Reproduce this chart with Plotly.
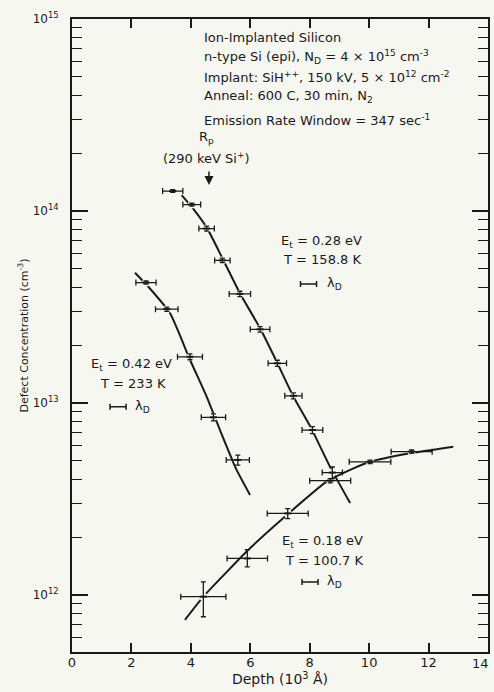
import numpy as np
import plotly.graph_objects as go

# ---------------- data ----------------
# Et = 0.28 eV, T = 158.8 K
s1_x = [3.39, 4.03, 4.53, 5.06, 5.65, 6.33, 6.91, 7.45, 8.09, 8.76]
s1_y = [1.27e14, 1.08e14, 8.1e13, 5.53e13, 3.70e13, 2.42e13, 1.61e13, 1.09e13, 7.23e12, 4.34e12]
s1_xerr = [0.34, 0.30, 0.26, 0.26, 0.36, 0.33, 0.31, 0.29, 0.35, 0.34]
s1_yerr = [0.02e14, 0.02e14, 0.25e13, 0.15e13, 0.12e13, 0.08e13, 0.06e13, 0.04e13, 0.30e12, 0.30e12]
s1_line_x = [3.69, 4.03, 4.55, 5.09, 5.65, 6.33, 6.89, 7.45, 8.07, 8.68, 9.36]
s1_line_y = [1.21e14, 1.05e14, 8.12e13, 5.56e13, 3.73e13, 2.45e13, 1.64e13, 1.08e13, 7.29e12, 4.66e12, 3.01e12]

# Et = 0.42 eV, T = 233 K
s2_x = [2.49, 3.19, 3.97, 4.76, 5.58]
s2_y = [4.24e13, 3.08e13, 1.74e13, 8.42e12, 5.05e12]
s2_xerr = [0.34, 0.38, 0.42, 0.41, 0.39]
s2_yerr = [0.08e13, 0.08e13, 0.06e13, 0.35e12, 0.30e12]
s2_line_x = [2.12, 2.57, 3.30, 3.97, 4.53, 4.98, 5.54, 5.99]
s2_line_y = [4.77e13, 4.03e13, 2.93e13, 1.68e13, 1.08e13, 7.23e12, 4.48e12, 3.32e12]

# Et = 0.18 eV, T = 100.7 K
s3_x = [4.42, 5.90, 7.26, 8.69, 10.03, 11.43]
s3_y = [9.8e11, 1.55e12, 2.66e12, 3.94e12, 4.94e12, 5.58e12]
s3_xerr = [0.76, 0.68, 0.69, 0.69, 0.70, 0.69]
s3_yerr_plus = [0.19e12, 0.17e12, 0.16e12, 0.10e12, 0.10e12, 0.11e12]
s3_yerr_minus = [0.21e12, 0.15e12, 0.16e12, 0.10e12, 0.10e12, 0.11e12]
s3_line_x = [3.80, 4.42, 5.99, 7.23, 8.57, 9.36, 10.03, 11.38, 12.83]
s3_line_y = [7.41e11, 9.8e11, 1.75e12, 2.61e12, 3.89e12, 4.48e12, 4.94e12, 5.47e12, 5.92e12]

# Debye length scale bars (half width in 10^3 A)
lambda_half = 0.27

x_ticks = [0, 2, 4, 6, 8, 10, 12, 14]
x_tick_text = ["0", "2", "4", "6", "8", "10", "12", ""]   # "14" drawn separately so it stays inside the page
last_x_label = "14"
y_major = [1e12, 1e13, 1e14, 1e15]
y_major_text = ["10<sup>12</sup>", "10<sup>13</sup>", "10<sup>14</sup>", "10<sup>15</sup>"]
y_minor = [k * 10.0 ** d for d in (11, 12, 13, 14) for k in range(2, 10)]

INK = "#1a1a1a"
BG = "#f7f7f2"
FONT = "DejaVu Sans"

fig = go.Figure()

def curve(x, y):
    fig.add_trace(go.Scatter(x=x, y=y, mode="lines", line=dict(color=INK, width=2, shape="spline", smoothing=0.5),
                             hoverinfo="skip", showlegend=False))

def mask(x, y):
    fig.add_trace(go.Scatter(x=x, y=y, mode="markers", hoverinfo="skip", showlegend=False,
                             marker=dict(symbol="circle", size=8, color=BG, line=dict(width=0))))

def points(x, y, xerr, yplus, yminus=None):
    ey = dict(type="data", array=yplus, color=INK, thickness=1.3, width=2.5, visible=True)
    if yminus is not None:
        ey["symmetric"] = False
        ey["arrayminus"] = yminus
    fig.add_trace(go.Scatter(
        x=x, y=y, mode="markers",
        marker=dict(symbol="line-ew", size=5, line=dict(color=INK, width=2)),
        error_x=dict(type="data", array=xerr, color=INK, thickness=1.3, width=3),
        error_y=ey, showlegend=False))

curve(s1_line_x, s1_line_y)
curve(s2_line_x, s2_line_y)
curve(s3_line_x, s3_line_y)
mask(s1_x, s1_y)
mask(s2_x, s2_y)
mask(s3_x, s3_y)
points(s1_x, s1_y, s1_xerr, s1_yerr)
points(s2_x, s2_y, s2_xerr, s2_yerr)
points(s3_x, s3_y, s3_xerr, s3_yerr_plus, s3_yerr_minus)

# lambda_D scale bars
bar_x = [7.96, 1.55, 8.01]
bar_y = [10 ** 13.620, 10 ** 12.981, 10 ** 12.068]
fig.add_trace(go.Scatter(x=bar_x, y=bar_y, mode="markers", marker=dict(size=1, color=INK),
                         error_x=dict(type="constant", value=lambda_half, color=INK, thickness=1.5, width=3),
                         showlegend=False))

ann = []
def txt(x, ylog, s, anchor="center", size=13):
    ann.append(dict(x=x, y=ylog, xref="x", yref="y", text=s, showarrow=False, xanchor=anchor,
                    yanchor="middle", font=dict(family=FONT, size=size, color=INK)))

x0 = 4.375
txt(x0, 14.906, "Ion-Implanted Silicon", "left")
txt(x0, 14.802, "n-type Si (epi), N<sub>D</sub> = 4 × 10<sup>15</sup> cm<sup>-3</sup>", "left")
txt(x0, 14.698, "Implant: SiH<sup>++</sup>, 150 kV, 5 × 10<sup>12</sup> cm<sup>-2</sup>", "left")
txt(x0, 14.594, "Anneal: 600 C, 30 min, N<sub>2</sub>", "left")
txt(x0, 14.474, "Emission Rate Window = 347 sec<sup>-1</sup>", "left")
txt(4.54, 14.385, "R<sub>p</sub>")
txt(4.53, 14.276, "(290 keV Si<sup>+</sup>)")

txt(8.38, 13.842, "E<sub>t</sub> = 0.28 eV")
txt(8.40, 13.745, "T = 158.8 K")
txt(8.52, 13.620, "λ<sub>D</sub>", "left")

txt(2.00, 13.203, "E<sub>t</sub> = 0.42 eV")
txt(2.05, 13.099, "T = 233 K")
txt(2.05, 12.981, "λ<sub>D</sub>", "left")

txt(8.42, 12.276, "E<sub>t</sub> = 0.18 eV")
txt(8.48, 12.182, "T = 100.7 K")
txt(8.52, 12.068, "λ<sub>D</sub>", "left")

# last x tick label, kept inside the page
ann.append(dict(x=x_ticks[-1], y=0, xref="x", yref="paper", text=last_x_label, showarrow=False,
                xanchor="right", yanchor="top", xshift=3, yshift=-2,
                font=dict(family=FONT, size=13, color=INK)))

# R_p arrow
ann.append(dict(x=4.61, y=14.135, xref="x", yref="y", ax=0, ay=-15, text="", showarrow=True,
                arrowhead=2, arrowsize=1.2, arrowwidth=1.5, arrowcolor=INK))

fig.update_layout(
    width=494, height=692,
    margin=dict(l=72, r=6, t=19, b=40, autoexpand=False),
    paper_bgcolor=BG, plot_bgcolor=BG,
    font=dict(family=FONT, size=12, color=INK),
    annotations=ann,
    showlegend=False,
)
fig.update_xaxes(
    range=[0, 14], tickmode="array", tickvals=x_ticks, ticktext=x_tick_text,
    ticks="inside", ticklen=9, tickwidth=1.5, tickcolor=INK,
    showline=True, linecolor=INK, linewidth=2, mirror="allticks", showgrid=False, zeroline=False,
    tickfont=dict(family=FONT, size=13, color=INK), automargin=False, ticklabelstandoff=-3,
    title=dict(text="Depth (10<sup>3</sup> Å)", font=dict(family=FONT, size=14, color=INK), standoff=0),
)
fig.update_yaxes(
    type="log", range=[11.703, 15.0], tickmode="array", tickvals=y_major, ticktext=y_major_text,
    ticks="inside", ticklen=16, tickwidth=1.5, tickcolor=INK,
    minor=dict(tickmode="array", tickvals=y_minor, ticks="inside", ticklen=10, tickwidth=1.3, tickcolor=INK, showgrid=False),
    showline=True, linecolor=INK, linewidth=2, mirror="allticks", showgrid=False, zeroline=False,
    tickfont=dict(family=FONT, size=12, color=INK), ticklabelstandoff=9, automargin=False,
    title=dict(text="Defect Concentration (cm<sup>-3</sup>)", font=dict(family=FONT, size=11, color=INK), standoff=2),
)

fig.write_html(
    "out.html",
    config={"displayModeBar": False},
    post_script="document.body.style.margin='0';document.body.style.padding='0';"
                "document.body.style.background='" + BG + "';",
)
